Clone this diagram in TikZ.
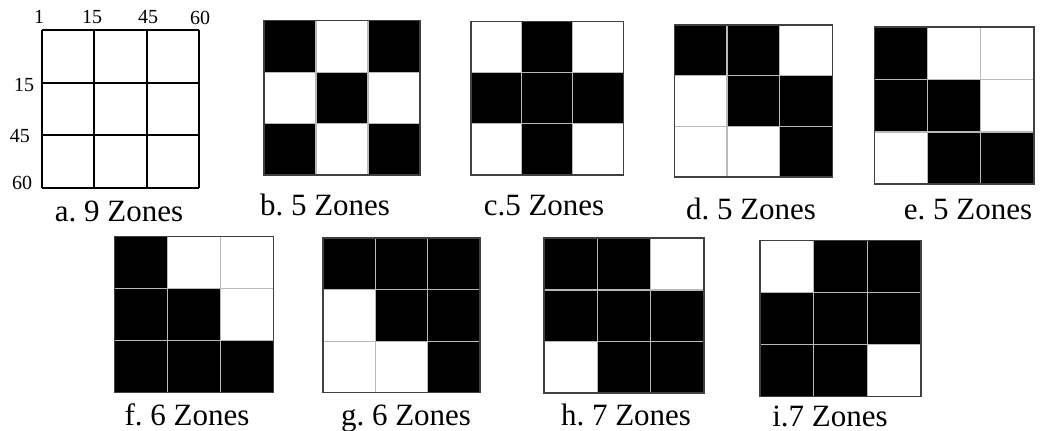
\documentclass[tikz,border=0pt]{standalone}
\usepackage{fontspec}
\setmainfont{Liberation Serif}
\usepackage{tikz}
\usetikzlibrary{positioning, calc}
\frenchspacing

% one 3x3 zone grid: left, top, width, height, cell colours (row by row)
\newcommand{\zonegrid}[5]{%
  \foreach \c [count=\k from 0] in {#5} {
    \pgfmathtruncatemacro{\col}{mod(\k,3)}
    \pgfmathtruncatemacro{\row}{div(\k,3)}
    \fill[\c] ({#1+\col*#3/3},{#2+\row*#4/3}) rectangle ++({#3/3},{#4/3});
  }
  \foreach \i in {1,2} {
    \draw[cellline] ({#1+\i*#3/3},#2) -- ++(0,#4);
    \draw[cellline] (#1,{#2+\i*#4/3}) -- ++(#3,0);
  }
  \draw[border] (#1,#2) rectangle ++(#3,#4);
}

\begin{document}
\begin{tikzpicture}[x=0.5pt, y=-0.5pt,
    zonecap/.style={font=\fontsize{15.5}{17}\selectfont, inner sep=0pt, text depth=0pt},
    axislabel/.style={font=\fontsize{10}{11}\selectfont, inner sep=0pt},
    cellline/.style={draw=gray!55, line width=0.6pt},
    border/.style={draw=black!75, line width=0.8pt},
    plainline/.style={draw=black, line width=1pt}]

    \useasboundingbox (0,0) rectangle (1042,431);

    % a. the plain grid with its limits
    \foreach \i in {0,1,2,3} {
      \draw[plainline] ({41.7+\i*157.6/3},30) -- ++(0,157.7);
      \draw[plainline] (41.7,{30+\i*157.7/3}) -- ++(157.6,0);
    }
    \node[axislabel] (t1) at (39,17) {1};
    \node[axislabel] (t15) at (92,17) {15};
    \node[axislabel] (t45) at (148,17) {45};
    \node[axislabel] (t60) at (200,18) {60};
    \node[axislabel] (l15) at (24,85) {15};
    \node[axislabel] (l45) at (20,136) {45};
    \node[axislabel] (l60) at (22,183) {60};
    \node[zonecap] (capA) at (119,211) {a. 9 Zones};

    % b -- e, top row
    \zonegrid{264}{20.7}{156}{154.3}{black,white,black,white,black,white,black,white,black}
    \node[zonecap] (capB) at (325,205) {b. 5 Zones};

    \zonegrid{470.7}{21.7}{152.6}{153.3}{white,black,white,black,black,black,white,black,white}
    \node[zonecap] (capC) at (544,205) {c.5 Zones};

    \zonegrid{674.3}{25}{158}{152.3}{black,black,white,white,black,black,white,white,black}
    \node[zonecap] (capD) at (751,209) {d. 5 Zones};

    \zonegrid{874.3}{27.3}{159.7}{157}{black,white,white,black,black,white,white,black,black}
    \node[zonecap] (capE) at (968,209) {e. 5 Zones};

    % f -- i, bottom row
    \zonegrid{114.3}{236.7}{159}{156}{black,white,white,black,black,white,black,black,black}
    \node[zonecap] (capF) at (187,415) {f. 6 Zones};

    \zonegrid{322.7}{238.3}{157.3}{154.4}{black,black,black,white,black,black,white,white,black}
    \node[zonecap] (capG) at (406,415) {g. 6 Zones};

    \zonegrid{544}{238.3}{160}{155}{black,black,white,black,black,black,white,black,black}
    \node[zonecap] (capH) at (626,415) {h. 7 Zones};

    \zonegrid{760}{240.7}{161}{156}{white,black,black,black,black,black,black,black,white}
    \node[zonecap] (capI) at (830,416) {i.7 Zones};
\end{tikzpicture}
\end{document}
